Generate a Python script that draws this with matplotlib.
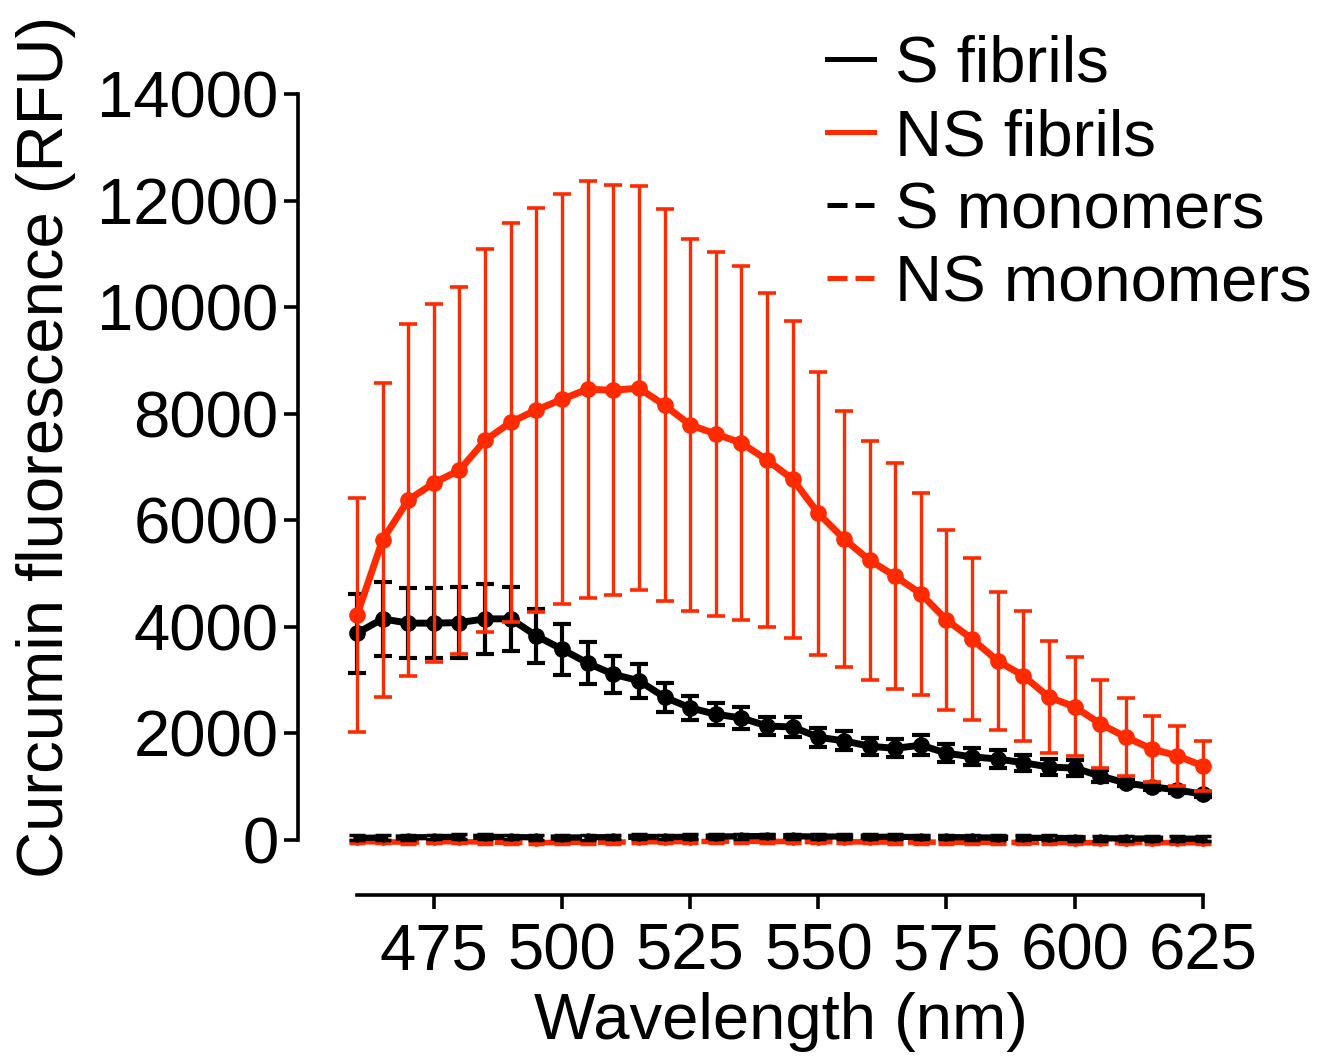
import matplotlib
matplotlib.use("Agg")
import matplotlib.pyplot as plt
from matplotlib.lines import Line2D
import numpy as np

plt.rcParams["font.family"] = ["Liberation Sans", "DejaVu Sans"]

RED = "#FF2A00"
BLACK = "#000000"
FS = 47

# wavelength (nm)
wavelength = list(range(460, 630, 5))

# NS fibrils mean / SD
ns_fib = [4220, 5630, 6380, 6700, 6940, 7500, 7840, 8070, 8270, 8460, 8440, 8480,
          8160, 7790, 7620, 7450, 7130, 6770, 6130, 5650, 5250, 4950, 4620, 4130,
          3770, 3360, 3080, 2680, 2500, 2180, 1930, 1710, 1580, 1390]
ns_fib_err = [2200, 2940, 3300, 3360, 3440, 3590, 3740, 3790, 3850, 3910, 3850, 3790,
              3680, 3490, 3410, 3320, 3130, 2970, 2650, 2400, 2240, 2120, 1890, 1690,
              1520, 1290, 1220, 1050, 930, 820, 730, 620, 560, 470]

# S fibrils mean / SD
s_fib = [3880, 4150, 4070, 4070, 4080, 4150, 4150, 3830, 3580, 3320, 3110, 2990,
         2680, 2480, 2360, 2290, 2140, 2120, 1930, 1860, 1760, 1720, 1780, 1630,
         1560, 1520, 1450, 1370, 1350, 1200, 1070, 1000, 940, 860]
s_fib_err = [740, 700, 660, 660, 665, 650, 600, 510, 480, 400, 350, 320,
             270, 230, 210, 200, 170, 180, 180, 180, 160, 170, 190, 170,
             160, 160, 150, 150, 150, 120, 60, 70, 60, 50]

# monomers
s_mono = [40, 45, 50, 55, 60, 60, 55, 50, 45, 50, 55, 60, 55, 60, 65, 70, 75,
          70, 65, 65, 60, 60, 55, 55, 50, 45, 40, 40, 35, 30, 30, 25, 25, 25]
s_mono_err = [45] * 34
ns_mono = [-30, -35, -40, -35, -30, -40, -45, -50, -45, -40, -40, -35, -30, -30,
           -25, -25, -25, -30, -30, -35, -35, -40, -40, -40, -45, -45, -45, -45,
           -50, -50, -50, -50, -50, -50]
ns_mono_err = [30] * 34

fig = plt.figure(figsize=(13.21, 10.60), dpi=100)
ax = fig.add_axes([298 / 1321, 1 - 840 / 1060, (1210 - 298) / 1321, (840 - 94) / 1060])

DASH = (0, (5, 1.2))
ax.errorbar(wavelength, ns_mono, yerr=ns_mono_err, color=RED, lw=4, ls=DASH,
            marker="o", ms=4, capsize=6, elinewidth=2, capthick=2.5, clip_on=False,
            zorder=2)
ax.errorbar(wavelength, s_mono, yerr=s_mono_err, color=BLACK, lw=4.5, ls=DASH,
            marker="o", ms=5, capsize=6, elinewidth=2, capthick=2.5, clip_on=False,
            zorder=3)
ax.errorbar(wavelength, s_fib, yerr=s_fib_err, color=BLACK, lw=5, marker="o", ms=11,
            capsize=6.5, elinewidth=3, capthick=3, clip_on=False, zorder=4)
ax.errorbar(wavelength, ns_fib, yerr=ns_fib_err, color=RED, lw=5, marker="o", ms=11,
            capsize=6.5, elinewidth=2.4, capthick=2.6, clip_on=False, zorder=5)

ax.set_xlim(448.5, 626.4)
ax.set_ylim(0, 14000)
ax.set_yticks(np.arange(0, 14001, 2000))
ax.set_xticks(range(475, 626, 25))

for s in ("top", "right"):
    ax.spines[s].set_visible(False)
ax.spines["left"].set_linewidth(2.6)
ax.spines["bottom"].set_linewidth(2.6)
ax.spines["bottom"].set_position(("outward", 39.6))
ax.spines["bottom"].set_bounds(460, 625)
ax.tick_params(axis="both", direction="out", length=10, width=2.6, labelsize=FS)
ax.tick_params(axis="y", pad=4)
ax.tick_params(axis="x", pad=10)

ax.set_xlabel("Wavelength (nm)", fontsize=FS)
ax.set_ylabel("Curcumin fluorescence (RFU)", fontsize=FS)
# centre labels like the reference (x label under the spine bounds, y label higher)
ax.xaxis.set_label_coords((781 - 298) / 912, (840 - 992) / 746)
ax.yaxis.set_label_coords((76 - 298) / 912, (840 - 447) / 746)

leg_handles = [
    Line2D([], [], color=BLACK, lw=3.6),
    Line2D([], [], color=RED, lw=3.6),
    Line2D([], [], color=BLACK, lw=3.6, ls=(0, (4, 1.6))),
    Line2D([], [], color=RED, lw=3.6, ls=(0, (4, 1.6))),
]
leg_labels = ["S fibrils", "NS fibrils", "S monomers", "NS monomers"]
ax.legend(leg_handles, leg_labels, loc="upper left",
          bbox_to_anchor=(827 / 1321, 1 - 35 / 1060), bbox_transform=fig.transFigure,
          fontsize=FS, frameon=False, handlelength=0.72, handletextpad=0.32,
          labelspacing=0.2, borderaxespad=0, borderpad=0)

fig.savefig("out.png", dpi=100)
